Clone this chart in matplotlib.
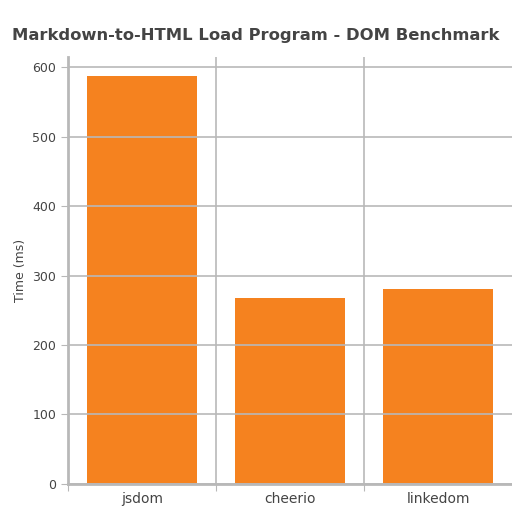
import matplotlib
matplotlib.use("Agg")
import matplotlib.pyplot as plt

# data
libs = ["jsdom", "cheerio", "linkedom"]
times = [588, 267, 280]
yticks = [0, 100, 200, 300, 400, 500, 600]

txt = "#444444"
grid = "#b8b8b8"

fig = plt.figure(figsize=(5.12, 5.12), dpi=100)
ax = fig.add_axes([0.133, 0.055, 0.867, 0.834])

pos = list(range(len(libs)))
ax.bar(pos, times, width=0.74, color="#f5821f", zorder=1)

ax.set_xlim(-0.5, len(libs) - 0.5)
ax.set_ylim(0, 615)
ax.set_yticks(yticks)
ax.set_yticklabels([str(v) for v in yticks], fontsize=9, color=txt)

# grid lines sit on category edges, labels at centres
ax.set_xticks([p - 0.5 for p in pos])
ax.set_xticklabels([])
ax.set_xticks(pos, minor=True)
ax.set_xticklabels(libs, minor=True, fontsize=10, color=txt)
ax.tick_params(axis="x", which="minor", length=0, pad=6)
ax.tick_params(axis="x", which="major", length=5, color=grid)
ax.tick_params(axis="y", length=5, color=grid)

ax.grid(True, which="major", color=grid, linewidth=1.2, zorder=3)
ax.set_axisbelow(False)

for s in ["top", "right"]:
    ax.spines[s].set_visible(False)
for s in ["left", "bottom"]:
    ax.spines[s].set_color(grid)
    ax.spines[s].set_linewidth(2)

ax.set_ylabel("Time (ms)", fontsize=9, color=txt, labelpad=4)
fig.suptitle("Markdown-to-HTML Load Program - DOM Benchmark", x=0.5, y=0.945,
             fontsize=11.8, color=txt, fontweight="semibold")

fig.savefig("out.png", dpi=100, transparent=True)
